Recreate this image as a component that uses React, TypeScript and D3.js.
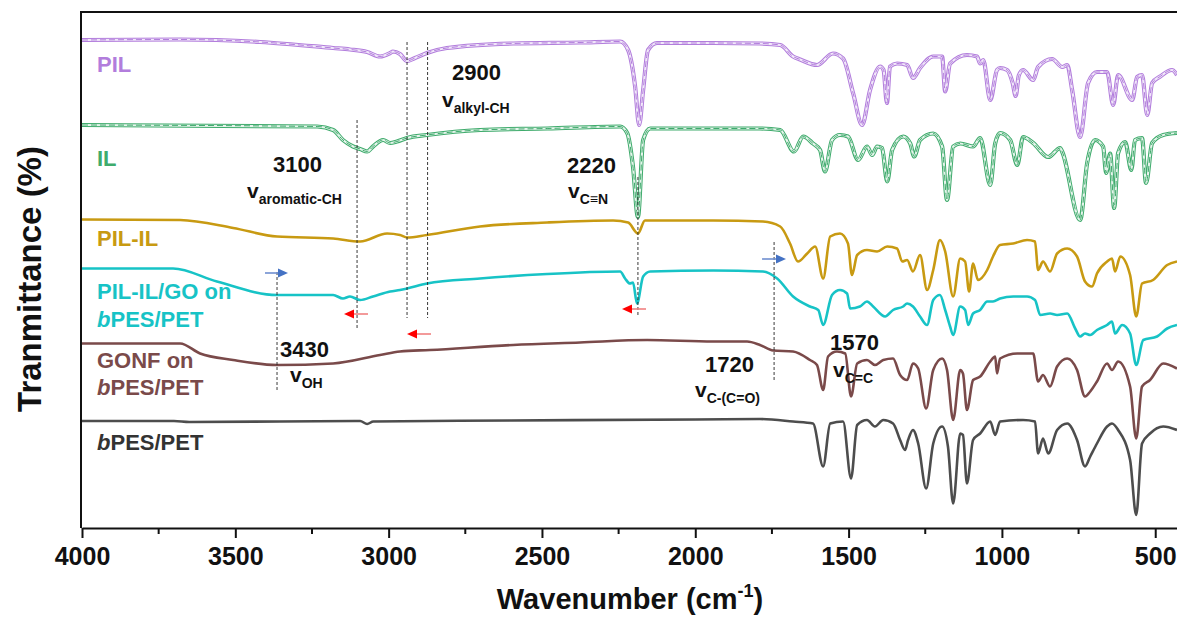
import React, { useEffect, useRef } from 'react';
import * as d3 from 'd3';

type Pt = [number, number];

// FTIR spectra, [wavenumber (cm-1), stacked transmittance (a.u.)]
const pilData: Pt[] = [
  [4000, 97.6], [3680, 97.7], [3419, 97.2], [3181, 96], [3126, 95.7], [3070, 95.2], [3028, 94.3],
  [2995, 95], [2986, 95.3], [2963, 94.8], [2940, 93.4], [2914, 94], [2875, 95], [2810, 96],
  [2594, 96.9], [2376, 97.1], [2245, 97.3], [2219, 95.6], [2196, 88.2], [2183, 80.6], [2170, 87.6],
  [2154, 95.6], [2125, 97], [1942, 97], [1789, 96.9], [1723, 96.6], [1681, 94.3], [1658, 93.7],
  [1603, 92.6], [1551, 94.9], [1518, 93.9], [1485, 86.9], [1456, 80.6], [1430, 87.6], [1397, 92.3],
  [1386, 91.6], [1375, 85], [1365, 92.3], [1342, 92.9], [1309, 92.6], [1290, 90], [1267, 92],
  [1224, 94.3], [1195, 94.3], [1185, 87.3], [1169, 92.9], [1114, 94.6], [1081, 94.3], [1071, 92.9],
  [1061, 93.6], [1038, 85.6], [1016, 91.6], [1006, 92], [983, 91.6], [965, 89], [955, 86.4],
  [945, 90.5], [931, 91.6], [898, 89.6], [882, 92.2], [836, 93.8], [803, 92.2], [787, 92.6],
  [771, 87.6], [745, 78.2], [719, 89], [690, 91.2], [657, 91.2], [637, 84.6], [621, 90.6],
  [575, 85.6], [559, 90.2], [543, 90.6], [526, 82.6], [510, 89], [484, 90.3], [445, 91.6], [429, 90.6],
];

const ilData: Pt[] = [
  [4000, 80.6], [3233, 80.3], [3181, 79.6], [3149, 77.6], [3116, 76.3], [3093, 75.8], [3070, 75.3],
  [3051, 76.3], [3018, 77.6], [2995, 77], [2973, 77.3], [2940, 78], [2875, 78.6], [2702, 79.6],
  [2483, 79.9], [2245, 80.3], [2222, 79], [2203, 72.2], [2187, 62.2], [2170, 77.6], [2147, 79.9],
  [1789, 79.9], [1723, 79.6], [1678, 75.3], [1648, 78.3], [1616, 76.9], [1593, 75.6], [1577, 71.3],
  [1554, 77.6], [1528, 78.6], [1502, 78.3], [1469, 73.6], [1440, 76.3], [1423, 74.6], [1407, 76.3],
  [1391, 76], [1374, 69.3], [1358, 75.6], [1322, 78.3], [1299, 76.9], [1286, 74.3], [1267, 77.6],
  [1224, 78.9], [1195, 76.3], [1179, 65.6], [1159, 76.3], [1136, 76.9], [1094, 76.3], [1071, 78],
  [1038, 68.6], [1022, 76.9], [1006, 79], [973, 77.6], [950, 72.6], [931, 78.2], [898, 77],
  [849, 74.2], [810, 76], [803, 75.2], [745, 61.6], [722, 73], [696, 77.6], [670, 76.3], [660, 71],
  [647, 74.9], [634, 64], [621, 75], [598, 77.2], [578, 71.6], [566, 77.6], [543, 78], [530, 69],
  [510, 77], [474, 78.6], [429, 79],
];

const pilIlData: Pt[] = [
  [4000, 61.7], [3680, 61.6], [3507, 60], [3364, 58.3], [3181, 57.9], [3093, 57.3], [3005, 58.9],
  [2963, 58.6], [2940, 58.1], [2875, 58.6], [2702, 60.3], [2483, 61.1], [2268, 61.5], [2219, 61.1],
  [2187, 58.9], [2164, 61.5], [1942, 61.5], [1779, 61.3], [1723, 60.3], [1691, 56.9], [1665, 53.3],
  [1635, 54.9], [1609, 56.3], [1583, 49.9], [1560, 58.3], [1528, 58.9], [1502, 56.9], [1489, 50.6],
  [1472, 54.6], [1440, 55.6], [1407, 55.3], [1374, 56.3], [1342, 55.9], [1325, 53.3], [1309, 53.6],
  [1290, 51.3], [1267, 54.6], [1244, 47.6], [1224, 51.6], [1202, 57.6], [1185, 55.3], [1159, 46.3],
  [1136, 53.9], [1120, 53.3], [1107, 47.3], [1094, 52.9], [1078, 49.6], [1048, 51.6], [1029, 54.3],
  [1006, 56.6], [963, 56.9], [918, 57.6], [892, 57.3], [882, 51.6], [866, 53.3], [843, 51.3],
  [820, 54.9], [787, 55.9], [755, 54.3], [729, 49.3], [706, 48.3], [690, 50.9], [657, 53.3],
  [641, 53.9], [631, 51.3], [614, 54.3], [582, 50.6], [562, 42.3], [543, 48.9], [507, 49.6],
  [461, 52.6], [429, 53.3],
];

const pilIlGoData: Pt[] = [
  [4000, 51.9], [3703, 51.9], [3560, 49.3], [3364, 46.6], [3181, 46.6], [3149, 45.9], [3126, 46.3],
  [3093, 45.6], [3051, 46.3], [2995, 47.3], [2963, 47.6], [2940, 47.9], [2875, 48.9], [2702, 49.9],
  [2483, 50.8], [2245, 51.3], [2229, 49.9], [2213, 48.9], [2203, 49.1], [2190, 44.9], [2170, 50.3],
  [2147, 51.3], [1942, 51.5], [1779, 51.3], [1733, 49.9], [1681, 46.3], [1626, 44.3], [1599, 43.6],
  [1583, 40.6], [1554, 46.6], [1528, 47.6], [1505, 46.9], [1495, 43.9], [1463, 44.3], [1440, 45.3],
  [1420, 44.3], [1381, 42.3], [1355, 43.6], [1322, 44.3], [1309, 44.9], [1290, 44.3], [1267, 42.3],
  [1244, 40.6], [1224, 45.6], [1202, 46.6], [1185, 43.6], [1169, 40.3], [1159, 38.6], [1136, 44.3],
  [1120, 43.6], [1110, 40.6], [1094, 42.9], [1071, 43.6], [1048, 45.3], [1029, 45.3], [1006, 45.9],
  [963, 46.3], [918, 46.3], [892, 45.6], [875, 42.6], [843, 42.9], [820, 42.6], [787, 42.9],
  [761, 39.9], [745, 38.3], [729, 38.9], [712, 38.6], [690, 39.6], [657, 40.6], [641, 41.3],
  [631, 38.9], [608, 40.6], [582, 38.9], [562, 32.6], [539, 37.6], [494, 38.3], [461, 39.9], [429, 40.6],
];

const gonfData: Pt[] = [
  [4000, 36.9], [3680, 36.9], [3615, 34.9], [3507, 33.6], [3364, 32.6], [3181, 32.9], [3028, 34.6],
  [2963, 35.3], [2865, 35.6], [2594, 36.6], [2376, 37.1], [2157, 37.6], [1942, 37.3], [1831, 37.3],
  [1789, 36.6], [1746, 35.5], [1681, 35.3], [1626, 33.6], [1603, 32.6], [1583, 27.6], [1567, 34.3],
  [1538, 35.3], [1511, 34.9], [1492, 26.3], [1472, 32.9], [1440, 33.6], [1414, 32.6], [1387, 33.6],
  [1355, 33.9], [1332, 30.6], [1309, 29.6], [1290, 32.9], [1273, 31.9], [1247, 23.9], [1224, 31.6],
  [1195, 33.9], [1179, 31.6], [1159, 21.6], [1136, 31.6], [1127, 30.9], [1114, 23.6], [1094, 29.6],
  [1071, 30.3], [1038, 33.3], [1022, 34.3], [1016, 30.9], [1006, 33.9], [950, 34.9], [898, 34.9],
  [882, 29.3], [866, 30.6], [843, 28.3], [820, 32.3], [787, 33.9], [755, 31.6], [729, 26.3],
  [712, 27.3], [690, 29.3], [657, 32.9], [641, 31.6], [621, 33.3], [582, 28.3], [562, 17.9],
  [543, 28.3], [517, 29.6], [474, 32.9], [429, 31.9],
];

const bpesData: Pt[] = [
  [4000, 21.4], [3700, 21.4], [3650, 21.2], [3093, 21.4], [3070, 20.8], [3050, 21.3], [2600, 21.5],
  [2000, 21.7], [1789, 21.8], [1681, 21.3], [1616, 20.9], [1583, 12.3], [1560, 20.9], [1518, 21.3],
  [1492, 9.9], [1472, 20.6], [1440, 21.6], [1414, 20.3], [1387, 21.6], [1355, 20.9], [1332, 17.6],
  [1316, 15.6], [1306, 17.6], [1290, 19.6], [1273, 16.9], [1247, 7.9], [1224, 16.9], [1195, 20.3],
  [1176, 16.3], [1159, 4.9], [1136, 18.9], [1127, 18.6], [1114, 8.9], [1094, 17.6], [1071, 18.9],
  [1038, 21.3], [1022, 18.6], [1006, 21.3], [931, 21.6], [892, 21.3], [882, 14.9], [866, 17.9],
  [849, 14.9], [820, 19.6], [787, 20.9], [755, 17.6], [729, 12.3], [712, 14.3], [690, 16.9],
  [657, 20.3], [641, 20.9], [621, 19.6], [582, 13.6], [562, 2.6], [543, 16.9], [517, 18.9],
  [474, 20.3], [429, 19.6],
];

const majorTicks = [4000, 3500, 3000, 2500, 2000, 1500, 1000, 500];
const minorTicks = [3750, 3250, 2750, 2250, 1750, 1250, 750];

// band positions marked by dashed guides (cm-1)
const guideBands = [3364, 3103, 2940, 2873, 2187, 1743];
const bandNumbers = ['2900', '3100', '2220', '3430', '1720', '1570'];
const bandModes = ['alkyl-CH', 'aromatic-CH', 'C\u2261N', 'OH', 'C-(C=O)', 'C=C'];

const App = () => {
  const ref = useRef<SVGSVGElement>(null);

  useEffect(() => {
    const svg = d3.select(ref.current);
    svg.selectAll('*').remove();

    const left = 82;
    const top = 12;
    const right = 1177;
    const bottom = 528;
    const font = "'Liberation Sans', Arial, Helvetica, sans-serif";

    const x = d3.scaleLinear().domain([4000, 429]).range([left, right]);
    const y = d3.scaleLinear().domain([0, 103.2]).range([bottom, top]);

    svg
      .append('defs')
      .append('clipPath')
      .attr('id', 'plot-clip')
      .append('rect')
      .attr('x', left)
      .attr('y', top)
      .attr('width', right - left)
      .attr('height', bottom - top);

    const line = d3
      .line<Pt>()
      .x((d) => x(d[0]))
      .y((d) => y(d[1]))
      .curve(d3.curveMonotoneX);

    const plot = svg.append('g').attr('clip-path', 'url(#plot-clip)');

    // hollow "double" traces for PIL and IL
    const hollow = [
      { data: pilData, color: '#b27ddc', fill: '#f1e8f9' },
      { data: ilData, color: '#3fab6c', fill: '#e6f4ec' },
    ];
    hollow.forEach((s) => {
      plot.append('path').attr('d', line(s.data)).attr('fill', 'none')
        .attr('stroke', s.color).attr('stroke-width', 4.2).attr('stroke-linejoin', 'round');
      plot.append('path').attr('d', line(s.data)).attr('fill', 'none')
        .attr('stroke', s.fill).attr('stroke-width', 2.2).attr('stroke-linejoin', 'round');
      plot.append('path').attr('d', line(s.data)).attr('fill', 'none')
        .attr('stroke', s.color).attr('stroke-width', 1).attr('stroke-dasharray', '6,3');
    });

    const solid = [
      { data: pilIlData, color: '#c89a12' },
      { data: pilIlGoData, color: '#17c3c6' },
      { data: gonfData, color: '#7a4a4a' },
      { data: bpesData, color: '#4d4d4d' },
    ];
    solid.forEach((s) => {
      plot.append('path').attr('d', line(s.data)).attr('fill', 'none')
        .attr('stroke', s.color).attr('stroke-width', 2.6).attr('stroke-linejoin', 'round');
    });

    // dashed guides
    const guideY = [[272, 390], [120, 328], [42, 318], [42, 318], [177, 317], [242, 380]];
    guideBands.forEach((b, i) => {
      svg.append('line')
        .attr('x1', x(b)).attr('x2', x(b))
        .attr('y1', guideY[i][0]).attr('y2', guideY[i][1])
        .attr('stroke', '#222').attr('stroke-width', 0.9).attr('stroke-dasharray', '3,2');
    });

    // shift arrows
    const arrow = (x0: number, x1: number, yy: number, lineColor: string, headColor: string) => {
      const dir = Math.sign(x1 - x0);
      svg.append('line').attr('x1', x0).attr('x2', x1 - dir * 8).attr('y1', yy).attr('y2', yy)
        .attr('stroke', lineColor).attr('stroke-width', 1.6);
      svg.append('path')
        .attr('d', `M${x1},${yy} L${x1 - dir * 10},${yy - 4.5} L${x1 - dir * 10},${yy + 4.5} Z`)
        .attr('fill', headColor);
    };
    arrow(265, 288, 273, '#6f8fd0', '#4472c4');
    arrow(762, 786, 259, '#6f8fd0', '#4472c4');
    arrow(368, 344, 314, '#f08080', '#ff0000');
    arrow(431, 407, 334, '#f08080', '#ff0000');
    arrow(646, 622, 309, '#f08080', '#ff0000');

    // band annotations
    const numPos = [[452, 80], [273, 172], [567, 173], [280, 357], [705, 372], [830, 350]];
    const modePos = [[442, 107], [247, 198], [568, 198], [290, 382], [695, 397], [833, 377]];
    bandNumbers.forEach((t, i) => {
      svg.append('text').attr('x', numPos[i][0]).attr('y', numPos[i][1])
        .attr('font-family', font).attr('font-weight', 'bold').attr('font-size', 22)
        .attr('fill', '#111').text(t);
    });
    bandModes.forEach((t, i) => {
      const tx = svg.append('text').attr('x', modePos[i][0]).attr('y', modePos[i][1])
        .attr('font-family', font).attr('font-weight', 'bold').attr('fill', '#111');
      tx.append('tspan').attr('font-size', 21).text('v');
      tx.append('tspan').attr('font-size', 14).attr('dy', 6).text(t);
    });

    // series labels
    const label = (parts: { t: string; it?: boolean }[], xx: number, yy: number, color: string) => {
      const tx = svg.append('text').attr('x', xx).attr('y', yy)
        .attr('font-family', font).attr('font-weight', 'bold').attr('font-size', 22)
        .attr('fill', color);
      parts.forEach((p) => tx.append('tspan').attr('font-style', p.it ? 'italic' : 'normal').text(p.t));
    };
    label([{ t: 'PIL' }], 97, 72, '#b27ddc');
    label([{ t: 'IL' }], 97, 166, '#3fab6c');
    label([{ t: 'PIL-IL' }], 97, 246, '#c89a12');
    label([{ t: 'PIL-IL/GO on' }], 97, 299, '#17c3c6');
    label([{ t: 'b', it: true }, { t: 'PES/PET' }], 97, 327, '#17c3c6');
    label([{ t: 'GONF on' }], 97, 368, '#7a4a4a');
    label([{ t: 'b', it: true }, { t: 'PES/PET' }], 97, 395, '#7a4a4a');
    label([{ t: 'b', it: true }, { t: 'PES/PET' }], 97, 450, '#333333');

    // frame
    svg.append('line').attr('x1', left - 1).attr('x2', left - 1).attr('y1', top).attr('y2', bottom)
      .attr('stroke', '#111').attr('stroke-width', 2);
    svg.append('line').attr('x1', left - 2).attr('x2', right).attr('y1', top).attr('y2', top)
      .attr('stroke', '#111').attr('stroke-width', 2);

    // x axis
    const xAxis = svg.append('g').attr('transform', `translate(0, ${bottom})`)
      .call(d3.axisBottom(x).tickValues(majorTicks).tickSize(10).tickSizeOuter(0).tickPadding(9)
        .tickFormat((d) => String(d)));
    xAxis.select('.domain').attr('stroke', '#111').attr('stroke-width', 2);
    xAxis.selectAll('.tick line').attr('stroke', '#111').attr('stroke-width', 2);
    xAxis.selectAll('.tick text').attr('font-family', font).attr('font-weight', 'bold')
      .attr('font-size', 25).attr('fill', '#111');
    svg.append('g').selectAll('line').data(minorTicks).enter().append('line')
      .attr('x1', (d) => x(d)).attr('x2', (d) => x(d))
      .attr('y1', bottom).attr('y2', bottom + 6)
      .attr('stroke', '#111').attr('stroke-width', 2);

    // axis titles
    const xt = svg.append('text').attr('x', 630).attr('y', 609).attr('text-anchor', 'middle')
      .attr('font-family', font).attr('font-weight', 'bold').attr('font-size', 29).attr('fill', '#111');
    xt.append('tspan').text('Wavenumber (cm');
    xt.append('tspan').attr('font-size', 18).attr('dy', -12).text('-1');
    xt.append('tspan').attr('dy', 12).text(')');

    svg.append('text').attr('transform', 'translate(41, 279) rotate(-90)')
      .attr('text-anchor', 'middle').attr('font-family', font).attr('font-weight', 'bold')
      .attr('font-size', 33).attr('fill', '#111').text('Tranmittance (%)');
  }, []);

  return (
    <div className="chart">
      <svg
        ref={ref}
        width="1177"
        height="619"
        style={{ position: 'absolute', left: 0, top: 0, background: '#fff' }}
      ></svg>
    </div>
  );
};

export default App;
